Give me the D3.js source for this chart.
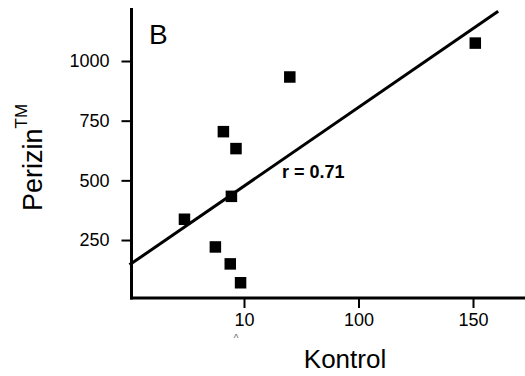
<!DOCTYPE html>
<html>
<head>
<meta charset="utf-8">
<script src="https://cdn.jsdelivr.net/npm/d3@7"></script>
<style>
  html, body { margin: 0; padding: 0; background: #fff; }
  svg { display: block; font-family: "Liberation Sans", Arial, sans-serif; }
</style>
</head>
<body>
<div id="chart"></div>
<script>
// Kontrol (x) vs Perizin (y) values
const kontrol = [151, 70, 41, 46.5, 44.5, 24, 37.5, 44, 48.5];
const perizin = [1075, 933, 704, 633, 433, 337, 221, 150, 71];

// fitted line end points
const fitX = [0, 161];
const fitY = [146, 1208];

const xTicks = [50, 100, 150];
const xTickLabels = ['10', '100', '150'];
const yTicks = [250, 500, 750, 1000];
const yTickLabels = ['250', '500', '750', '1000'];

const W = 525, H = 376;
const axisLeftX = 131.5, axisBottomY = 298, axisTopY = 8;

const svg = d3.select('#chart')
  .append('svg')
  .attr('width', W)
  .attr('height', H);

const x = d3.scaleLinear()
  .domain([0, 150])
  .range([129.5, 473]);

const y = d3.scaleLinear()
  .domain([0, 1000])
  .range([299.7, 61]);

// Y axis
const yAxis = svg.append('g')
  .attr('transform', `translate(${axisLeftX},0)`)
  .call(d3.axisLeft(y).tickValues(yTicks).tickFormat((d, i) => yTickLabels[i]).tickSize(10).tickPadding(12));
yAxis.select('.domain').remove();
yAxis.selectAll('line').attr('stroke', '#000').attr('stroke-width', 2);
yAxis.selectAll('text')
  .style('font-size', '18px')
  .style('fill', '#000')
  .style('font-family', '"Liberation Sans", Arial, sans-serif');

// X axis
const xAxis = svg.append('g')
  .attr('transform', `translate(0,${axisBottomY})`)
  .call(d3.axisBottom(x).tickValues(xTicks).tickFormat((d, i) => xTickLabels[i]).tickSize(10).tickPadding(5));
xAxis.select('.domain').remove();
xAxis.selectAll('line').attr('stroke', '#000').attr('stroke-width', 2);
xAxis.selectAll('text')
  .style('font-size', '18px')
  .style('fill', '#000')
  .style('font-family', '"Liberation Sans", Arial, sans-serif');

// small mark under the first tick label
svg.append('text')
  .attr('x', x(xTicks[0]) - 8)
  .attr('y', 342)
  .attr('text-anchor', 'middle')
  .style('font-size', '10px')
  .style('fill', '#666')
  .text('^');

// axis lines
svg.append('line')
  .attr('x1', axisLeftX).attr('x2', axisLeftX)
  .attr('y1', axisTopY).attr('y2', axisBottomY + 1.5)
  .attr('stroke', '#000').attr('stroke-width', 3);
svg.append('line')
  .attr('x1', axisLeftX - 1.5).attr('x2', W)
  .attr('y1', axisBottomY).attr('y2', axisBottomY)
  .attr('stroke', '#000').attr('stroke-width', 3);

// regression line
svg.append('line')
  .attr('x1', x(fitX[0])).attr('y1', y(fitY[0]))
  .attr('x2', x(fitX[1])).attr('y2', y(fitY[1]))
  .attr('stroke', '#000').attr('stroke-width', 3);

// points
const s = 11.5;
svg.selectAll('.pt')
  .data(kontrol)
  .enter()
  .append('rect')
  .attr('class', 'pt')
  .attr('x', d => x(d) - s / 2)
  .attr('y', (d, i) => y(perizin[i]) - s / 2)
  .attr('width', s)
  .attr('height', s)
  .attr('fill', '#000');

// r label
svg.append('text')
  .attr('x', 282)
  .attr('y', 178)
  .style('font-size', '18px')
  .style('font-weight', 'bold')
  .text('r = 0.71');

// panel letter
svg.append('text')
  .attr('x', 149)
  .attr('y', 44)
  .style('font-size', '28px')
  .text('B');

// axis titles
svg.append('text')
  .attr('x', 345)
  .attr('y', 368)
  .attr('text-anchor', 'middle')
  .style('font-size', '26px')
  .text('Kontrol');

const yt = svg.append('text')
  .attr('transform', 'translate(42,211) rotate(-90)')
  .style('font-size', '27px');
yt.append('tspan').text('Perizin');
yt.append('tspan')
  .attr('dy', -15)
  .style('font-size', '17px')
  .text('TM');
</script>
</body>
</html>
